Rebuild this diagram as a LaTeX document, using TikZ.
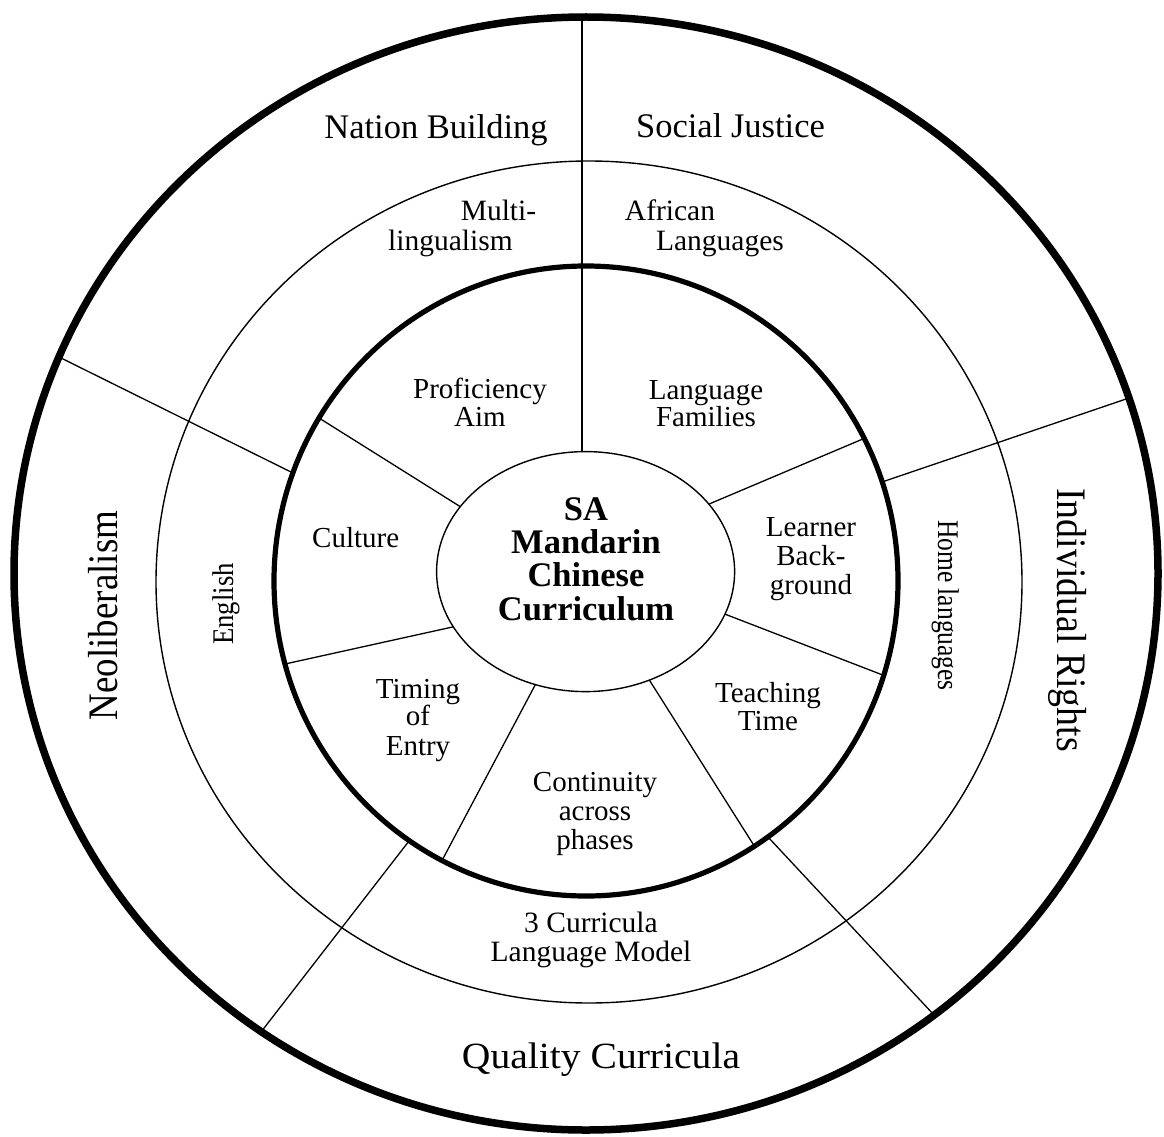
\documentclass[tikz,border=0pt]{standalone}
\usepackage{fontspec}
\setmainfont{Liberation Serif}
\usepackage{graphicx}
\begin{document}
\begin{tikzpicture}[x=1pt,y=-1pt,
  outerring/.style={line width=7.5pt},
  thickring/.style={line width=5.2pt},
  thinring/.style={line width=1.4pt},
  divider/.style={line width=1.3pt},
  corering/.style={line width=1.4pt, fill=white},
  outerlab/.style={font=\fontsize{34.5}{34.5}\selectfont, anchor=base, inner sep=0pt},
  sidelab/.style={font=\fontsize{42}{42}\selectfont, anchor=base, inner sep=0pt},
  midlab/.style={font=\fontsize{29.5}{29.5}\selectfont, anchor=base, inner sep=0pt},
  vmidlab/.style={font=\fontsize{30}{30}\selectfont, anchor=base, inner sep=0pt},
  innerlab/.style={font=\fontsize{29}{29}\selectfont, anchor=base, inner sep=0pt},
  corelab/.style={font=\bfseries\fontsize{34.5}{34.5}\selectfont, anchor=base, inner sep=0pt}
]
\useasboundingbox (0,0) rectangle (1164,1137);

% ---------- endpoints of dividers ----------
\coordinate (vTop) at (582,17);
\coordinate (vBot) at (582,456);
% outer-ring dividers
\coordinate (ulO) at (59,357);   \coordinate (ulT) at (293,473);
\coordinate (urO) at (1129,398); \coordinate (urT) at (882,482);
\coordinate (lrT) at (768,837);  \coordinate (lrO) at (934,1015);
\coordinate (llT) at (409,841);  \coordinate (llO) at (261,1032);
% inner-ring dividers
\coordinate (bC) at (464,509);     \coordinate (bT) at (319,418);
\coordinate (cC) at (457,626);     \coordinate (cT) at (285,664);
\coordinate (dC) at (537,681.5);   \coordinate (dT) at (442,860.5);
\coordinate (eC) at (647.3,676.8); \coordinate (eT) at (754.4,846.2);
\coordinate (fC) at (721.3,612.7); \coordinate (fT) at (883.7,675.4);
\coordinate (gC) at (704.4,506);   \coordinate (gT) at (864,438.5);

% ---------- dividers ----------
\draw[divider] (vTop) -- (vBot);
\draw[divider] (ulO) -- (ulT);
\draw[divider] (urO) -- (urT);
\draw[divider] (lrT) -- (lrO);
\draw[divider] (llT) -- (llO);
\draw[divider] (bC) -- (bT);
\draw[divider] (cC) -- (cT);
\draw[divider] (dC) -- (dT);
\draw[divider] (eC) -- (eT);
\draw[divider] (fC) -- (fT);
\draw[divider] (gC) -- (gT);

% ---------- rings ----------
\draw[outerring] (586,573.5) ellipse [x radius=572, y radius=556.5];
\draw[thinring]  (589,582) ellipse [x radius=433, y radius=421];
\draw[thickring] (586,581) ellipse [x radius=312, y radius=315];
\draw[corering]  (585.6,571.6) ellipse [x radius=149, y radius=120];

% ---------- outer ring labels ----------
\node[outerlab] (nation) at (436,139) {Nation Building};
\node[outerlab] (social) at (730.5,137.7) {Social Justice};
\node[outerlab, font=\fontsize{37}{37}\selectfont] (quality) at (601,1068.7) {\scalebox{1.07}[1]{Quality Curricula}};
\node[sidelab, rotate=90] (neolib) at (117,615.5) {\scalebox{0.88}[1]{Neoliberalism}};
\node[sidelab, rotate=-90] (indiv) at (1057,620) {\scalebox{0.9}[1]{Individual Rights}};

% ---------- middle ring labels ----------
\node[midlab] (multiA) at (498.5,220.7) {Multi-};
\node[midlab] (multiB) at (450.5,250) {lingualism};
\node[midlab] (afrA) at (670,220) {African};
\node[midlab] (afrB) at (720,250.7) {Languages};
\node[midlab] (threeA) at (591,932) {3 Curricula};
\node[midlab] (threeB) at (591,961) {Language Model};
\node[vmidlab, rotate=90] (english) at (233,604) {\scalebox{0.89}[1]{English}};
\node[vmidlab, rotate=-90] (home) at (938,605.5) {\scalebox{0.85}[1]{Home languages}};

% ---------- inner ring labels ----------
\node[innerlab] (profA) at (480,398) {Proficiency};
\node[innerlab] (profB) at (480,426.5) {Aim};
\node[innerlab] (famA) at (706,399) {Language};
\node[innerlab] (famB) at (706,426.5) {Families};
\node[innerlab] (culture) at (355.7,547) {Culture};
\node[innerlab] (learnA) at (811,536.7) {Learner};
\node[innerlab] (learnB) at (811,565) {Back-};
\node[innerlab] (learnC) at (811,594) {ground};
\node[innerlab] (timA) at (418,698) {Timing};
\node[innerlab] (timB) at (418,725.6) {of};
\node[innerlab] (timC) at (418,755) {Entry};
\node[innerlab] (teachA) at (768,702) {Teaching};
\node[innerlab] (teachB) at (768,730) {Time};
\node[innerlab] (contA) at (595,791.6) {Continuity};
\node[innerlab] (contB) at (595,820.5) {across};
\node[innerlab] (contC) at (595,849) {phases};

% ---------- core ----------
\node[corelab] (coreA) at (586,520) {SA};
\node[corelab] (coreB) at (586,553) {Mandarin};
\node[corelab] (coreC) at (586,586.5) {Chinese};
\node[corelab] (coreD) at (586,620.5) {Curriculum};
\end{tikzpicture}
\end{document}
